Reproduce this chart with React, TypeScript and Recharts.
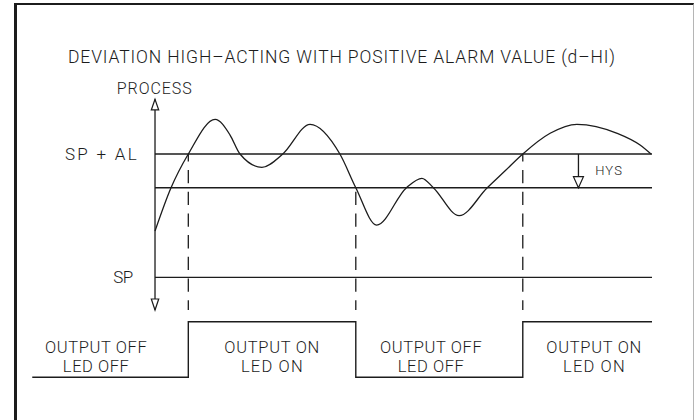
import React from 'react';
import { ComposedChart, Line, XAxis, YAxis, ReferenceLine, ReferenceDot } from 'recharts';

// process curve (time units, process units above SP)
const processTimes = [0, 3.2, 6.7, 12.1, 15.1, 17.1, 21.5, 25.7, 31.2, 37.2, 40.4, 44.6, 50.6, 53.7, 56.0, 61.2, 66.8, 70.4, 74.0, 79.5, 84.9, 93.0, 97.6, 99.8];
const processValues = [3.75, 7.24, 10.0, 12.81, 11.54, 10.0, 8.92, 10.0, 12.41, 10.0, 7.27, 4.24, 7.27, 8.03, 7.27, 5.0, 7.24, 8.62, 10.0, 11.68, 12.41, 11.68, 10.73, 10.0];

// alarm levels
const SP = 0;
const SP_AL = 10;
const HYS = 2.73;
const levelLabels = ['SP', 'SP + AL'];

// output relay state (0 = off, 1 = on)
const outputTimes = [-24.7, 6.7, 40.4, 74.0, 100];
const outputStates = [0, 1, 0, 1, 1];
const switchTimes = [6.7, 40.4, 74.0];
const outputLabelTimes = [-11.9, 23.5, 55.5, 88.3];
const outputLabels = [
  ['OUTPUT OFF', 'LED OFF'],
  ['OUTPUT ON', 'LED ON'],
  ['OUTPUT OFF', 'LED OFF'],
  ['OUTPUT ON', 'LED ON'],
];

const T_START = 0;
const T_END = 100;
const AXIS_TOP = 14.44;
const AXIS_BOTTOM = -2.65;
const HYS_TIME = 85.2;

const title = 'DEVIATION HIGH\u2013ACTING WITH POSITIVE ALARM VALUE (d\u2013HI)';

const curveData = processTimes.map((t, i) => ({ t, v: processValues[i] }));
const outputData = outputTimes.map((t, i) => ({ t, state: outputStates[i] }));

const INK = '#1c1c1c';
const FONT = "Roboto, 'DejaVu Sans', Arial, sans-serif";

const textWidths: Record<string, number> = {
  'OUTPUT OFF': 101.7,
  'OUTPUT ON': 95,
  'LED OFF': 66,
  'LED ON': 61.7,
};

function CadText({
  x,
  y,
  w,
  size,
  anchor = 'start',
  children,
}: {
  x: number;
  y: number;
  w: number;
  size: number;
  anchor?: 'start' | 'middle' | 'end';
  children: string;
}) {
  return (
    <text
      x={x}
      y={y}
      fontSize={size}
      fontFamily={FONT}
      fontWeight={300}
      fill={INK}
      textAnchor={anchor}
      textLength={w}
      lengthAdjust="spacing"
    >
      {children}
    </text>
  );
}

function openHead(x: number, tipY: number, dir: number, half: number, len: number) {
  const baseY = tipY - dir * len;
  return (
    <polygon
      points={`${x},${tipY} ${x - half},${baseY} ${x + half},${baseY}`}
      fill="#fff"
      stroke={INK}
      strokeWidth={1.2}
    />
  );
}

export default function App() {
  return (
    <div style={{ position: 'absolute', left: 0, top: 0, width: 694, height: 420, overflow: 'hidden', background: '#fff' }}>
      <div
        style={{
          position: 'absolute',
          left: 13.5,
          top: 2.7,
          width: 676,
          height: 500,
          borderLeft: `3px solid ${INK}`,
          borderTop: `2px solid ${INK}`,
          borderRight: '1px solid #b5b5b5',
        }}
      />
      <div style={{ position: 'absolute', left: 0, top: 0 }}>
        <ComposedChart width={694} height={420} margin={{ top: 0, right: 0, bottom: 0, left: 0 }}>
          <XAxis dataKey="t" type="number" domain={[-31.19, 108.45]} hide />
          <YAxis yAxisId="proc" type="number" domain={[-11.57, 22.49]} hide />
          <YAxis yAxisId="out" type="number" domain={[-0.768, 6.786]} hide />

          <CadText x={68} y={62.7} w={547} size={17.5}>{title}</CadText>

          {/* process axis with open arrow heads */}
          <ReferenceLine
            yAxisId="proc"
            segment={[{ x: T_START, y: AXIS_TOP }, { x: T_START, y: AXIS_BOTTOM }]}
            shape={(p: any) => (
              <g>
                <line x1={p.x1} y1={p.y1} x2={p.x2} y2={p.y2} stroke={INK} strokeWidth={1.3} />
                {openHead(p.x1, p.y1, -1, 3.7, 10.7)}
                {openHead(p.x2, p.y2, 1, 3.7, 11)}
                <CadText x={p.x1 - 0.8} y={p.y1 - 5} w={75} size={16} anchor="middle">PROCESS</CadText>
              </g>
            )}
          />

          {/* SP + AL, hysteresis band, SP */}
          {[SP_AL, SP_AL - HYS, SP].map((lvl) => (
            <ReferenceLine
              key={lvl}
              yAxisId="proc"
              segment={[{ x: T_START, y: lvl }, { x: T_END, y: lvl }]}
              shape={(p: any) => (
                <g>
                  <line x1={p.x1} y1={p.y1} x2={p.x2} y2={p.y2} stroke={INK} strokeWidth={1.4} />
                  {lvl === SP_AL && (
                    <CadText x={p.x1 - 18.3} y={p.y1 + 6} w={71.7} size={17} anchor="end">{levelLabels[1]}</CadText>
                  )}
                  {lvl === SP && (
                    <CadText x={p.x1 - 21.7} y={p.y1 + 6} w={20} size={17} anchor="end">{levelLabels[0]}</CadText>
                  )}
                </g>
              )}
            />
          ))}

          {/* switching instants */}
          {switchTimes.map((t, i) => (
            <ReferenceLine
              key={t}
              yAxisId="proc"
              segment={[{ x: t, y: i === 1 ? SP_AL - HYS : SP_AL }, { x: t, y: AXIS_BOTTOM }]}
              shape={(p: any) => (
                <line
                  x1={p.x1}
                  y1={p.y1}
                  x2={p.x2}
                  y2={p.y2}
                  stroke={INK}
                  strokeWidth={1.3}
                  strokeDasharray="13.3 8.4"
                  strokeDashoffset={i === 1 ? 17.7 : 5.7}
                />
              )}
            />
          ))}

          {/* hysteresis arrow */}
          <ReferenceLine
            yAxisId="proc"
            segment={[{ x: HYS_TIME, y: SP_AL }, { x: HYS_TIME, y: SP_AL - HYS }]}
            shape={(p: any) => (
              <g>
                <line x1={p.x1} y1={p.y1} x2={p.x2} y2={p.y2} stroke={INK} strokeWidth={1.3} />
                {openHead(p.x2, p.y2, 1, 5, 11)}
                <CadText x={p.x1 + 16.7} y={(p.y1 + p.y2) / 2 + 4.5} w={26.7} size={13}>HYS</CadText>
              </g>
            )}
          />

          <Line
            yAxisId="proc"
            data={curveData}
            dataKey="v"
            type="monotone"
            stroke={INK}
            strokeWidth={1.3}
            dot={false}
            activeDot={false}
            isAnimationActive={false}
          />

          <Line
            yAxisId="out"
            data={outputData}
            dataKey="state"
            type="stepAfter"
            stroke={INK}
            strokeWidth={1.4}
            dot={false}
            activeDot={false}
            isAnimationActive={false}
          />

          {outputLabelTimes.map((t, i) => (
            <ReferenceDot
              key={i}
              yAxisId="out"
              x={t}
              y={0}
              r={0}
              shape={(p: any) => (
                <g>
                  <CadText x={p.cx} y={p.cy - 24} w={textWidths[outputLabels[i][0]]} size={16.5} anchor="middle">
                    {outputLabels[i][0]}
                  </CadText>
                  <CadText x={p.cx} y={p.cy - 5.6} w={textWidths[outputLabels[i][1]]} size={16.5} anchor="middle">
                    {outputLabels[i][1]}
                  </CadText>
                </g>
              )}
            />
          ))}
        </ComposedChart>
      </div>
    </div>
  );
}
